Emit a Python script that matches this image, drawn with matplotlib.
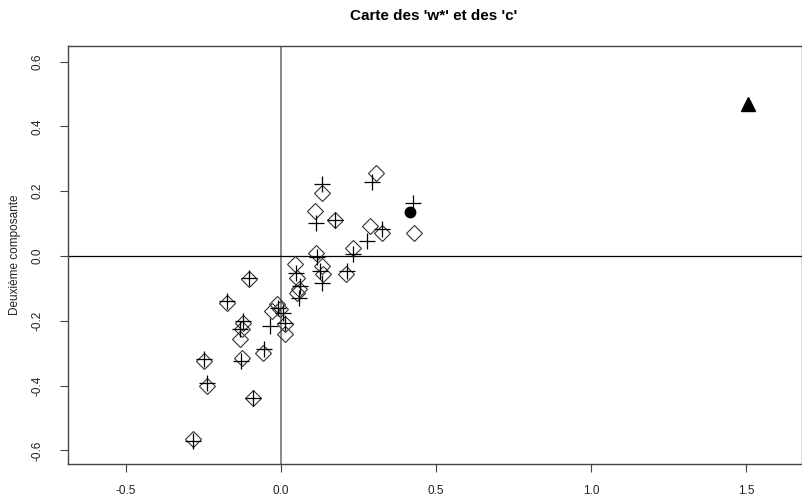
import matplotlib
matplotlib.use("Agg")
import matplotlib.pyplot as plt

# Diamonds (w*)
dx = [0.306, 0.132, 0.110, 0.174, 0.287, 0.326, 0.429, 0.232, 0.113, 0.045,
      0.132, 0.135, 0.210, 0.052, 0.058, 0.052, -0.013, -0.003, 0.013, 0.013,
      -0.103, -0.174, -0.029, -0.123, -0.126, -0.132, -0.248, -0.126, -0.058,
      -0.239, -0.090, -0.284]
dy = [0.256, 0.194, 0.139, 0.111, 0.093, 0.071, 0.071, 0.025, 0.009, -0.025,
      -0.031, -0.056, -0.056, -0.068, -0.102, -0.114, -0.148, -0.164, -0.210, -0.241,
      -0.071, -0.145, -0.170, -0.207, -0.225, -0.256, -0.324, -0.315, -0.299,
      -0.401, -0.438, -0.565]

# Plus signs (c)
px = [0.132, 0.294, 0.426, 0.113, 0.174, 0.326, 0.277, 0.232, 0.116, 0.048,
      0.126, 0.132, 0.213, 0.061, 0.058, -0.010, 0.006, 0.013, -0.035, -0.103,
      -0.174, -0.123, -0.132, -0.248, -0.129, -0.055, -0.239, -0.090, -0.284]
py = [0.222, 0.228, 0.164, 0.102, 0.111, 0.083, 0.046, 0.006, -0.003, -0.052,
      -0.046, -0.083, -0.046, -0.093, -0.130, -0.160, -0.176, -0.207, -0.216, -0.068,
      -0.139, -0.201, -0.225, -0.318, -0.324, -0.287, -0.392, -0.438, -0.571]

circle_xy = (0.416, 0.136)
triangle_xy = (1.506, 0.469)

xticks = [-0.5, 0.0, 0.5, 1.0, 1.5]
yticks = [-0.6, -0.4, -0.2, 0.0, 0.2, 0.4, 0.6]

plt.rcParams['font.family'] = ['Liberation Sans', 'DejaVu Sans']

W, H = 802, 498
fig = plt.figure(figsize=(W / 100, H / 100), dpi=100)
ax = fig.add_axes([67.5 / W, 1 - 464 / H, (801.5 - 67.5) / W, (464 - 46) / H])

ax.axvline(0, color='#888888', lw=1.4, zorder=1)
ax.axhline(0, color='black', lw=0.9, zorder=1)

ax.plot(dx, dy, linestyle='none', marker='D', ms=8.6, mfc='none', mec='#333333', mew=0.8, zorder=2)
ax.plot(px, py, linestyle='none', marker='+', ms=12, mec='black', mew=0.9, zorder=3)
ax.plot([circle_xy[0]], [circle_xy[1]], linestyle='none', marker='o', ms=7.5, color='black', zorder=4)
ax.plot([triangle_xy[0]], [triangle_xy[1]], linestyle='none', marker='^', ms=9.5, color='black', zorder=4)

ax.set_xlim(-0.689, 1.679)
ax.set_ylim(-0.642, 0.648)
ax.set_xticks(xticks)
ax.set_xticklabels([f"{v:.1f}" for v in xticks])
ax.set_yticks(yticks)
ax.set_yticklabels([f"{v:.1f}" for v in yticks], rotation=90, va='center')

for s in ax.spines.values():
    s.set_color('#444444')
    s.set_linewidth(1.0)

ax.tick_params(axis='both', direction='out', length=6, width=0.8, color='#444444', labelsize=8.5, labelcolor='#222222')
ax.tick_params(axis='x', pad=9)
ax.tick_params(axis='y', pad=11)

ax.set_ylabel('Deuxième composante', fontsize=8.5, color='#222222', labelpad=8)
fig.text(434 / W, 1 - 16 / H, "Carte des 'w*' et des 'c'", ha='center', va='center', fontsize=11, fontweight='bold')

fig.savefig('out.png', dpi=100)
